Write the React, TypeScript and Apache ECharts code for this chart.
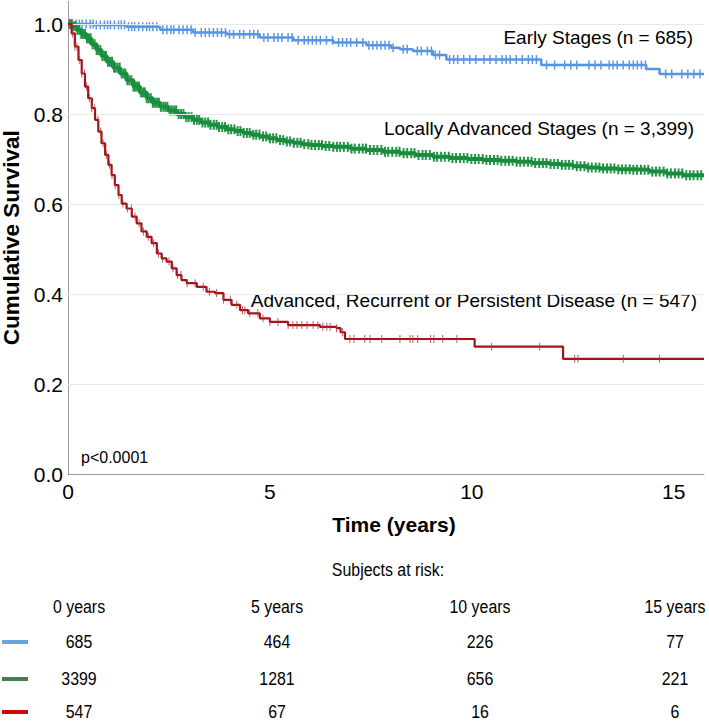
import React, { useEffect, useRef } from "react";
import * as echarts from "echarts";

// ---------- data ----------
const groupNames = [
  "Early Stages (n = 685)",
  "Locally Advanced Stages (n = 3,399)",
  "Advanced, Recurrent or Persistent Disease (n = 547)",
];

// Kaplan-Meier knots (time in years, cumulative survival)
const earlyTimes = [0, 0.63, 1.45, 2.28, 3.1, 3.93, 4.75, 5.58, 6.57, 7.39, 8.0, 8.22, 8.54, 9.04, 9.37, 11.72, 14.32, 14.65, 15.75];
const earlySurv = [1.0, 0.998, 0.994, 0.987, 0.981, 0.977, 0.97, 0.964, 0.959, 0.953, 0.947, 0.944, 0.94, 0.931, 0.921, 0.909, 0.9, 0.889, 0.889];

const localTimes = [0, 0.1, 0.21, 0.33, 0.46, 0.58, 0.71, 0.83, 0.96, 1.12, 1.29, 1.45, 1.62, 1.78, 1.95, 2.1, 2.28, 2.48, 2.69, 2.9, 3.1, 3.3, 3.51, 3.72, 3.93, 4.13, 4.34, 4.55, 4.75, 4.96, 5.17, 5.38, 5.58, 5.8, 5.99, 6.3, 6.57, 7.0, 7.39, 7.8, 8.22, 8.6, 9.04, 9.46, 9.9, 10.28, 10.7, 11.1, 11.5, 11.93, 12.2, 12.51, 12.85, 13.17, 13.6, 13.99, 14.4, 14.82, 15.23, 15.75];
const localSurv = [1.0, 0.995, 0.987, 0.978, 0.968, 0.955, 0.942, 0.929, 0.916, 0.903, 0.89, 0.875, 0.861, 0.848, 0.835, 0.825, 0.816, 0.808, 0.8, 0.793, 0.787, 0.781, 0.776, 0.771, 0.766, 0.762, 0.758, 0.754, 0.75, 0.746, 0.742, 0.739, 0.736, 0.733, 0.731, 0.729, 0.727, 0.723, 0.72, 0.716, 0.713, 0.709, 0.705, 0.702, 0.7, 0.698, 0.696, 0.694, 0.691, 0.689, 0.687, 0.684, 0.681, 0.679, 0.677, 0.676, 0.672, 0.668, 0.664, 0.664];

const advTimes = [0, 0.09, 0.17, 0.26, 0.34, 0.42, 0.5, 0.59, 0.67, 0.75, 0.83, 0.92, 1.0, 1.08, 1.16, 1.25, 1.33, 1.45, 1.58, 1.7, 1.82, 1.95, 2.07, 2.2, 2.32, 2.44, 2.57, 2.69, 2.81, 2.94, 3.19, 3.43, 3.64, 3.85, 4.05, 4.26, 4.46, 4.75, 5.0, 5.45, 6.24, 6.65, 6.75, 6.86, 10.07, 12.26, 15.75];
const advSurv = [1.0, 0.979, 0.95, 0.92, 0.89, 0.861, 0.835, 0.813, 0.787, 0.761, 0.735, 0.709, 0.687, 0.664, 0.642, 0.62, 0.601, 0.59, 0.572, 0.557, 0.539, 0.527, 0.513, 0.49, 0.479, 0.472, 0.457, 0.442, 0.431, 0.424, 0.416, 0.405, 0.402, 0.387, 0.376, 0.364, 0.357, 0.346, 0.338, 0.331, 0.327, 0.324, 0.315, 0.3, 0.283, 0.256, 0.256];

// censoring times
const earlyCensor = [0.1, 0.2, 0.28, 0.35, 0.45, 0.55, 0.62, 0.7, 0.8, 0.9, 0.98, 1.05, 1.15, 1.25, 1.32, 1.4, 1.5, 1.58, 1.65, 1.75, 1.85, 1.95, 2.02, 2.1, 2.2, 2.35, 2.45, 2.55, 2.62, 2.75, 2.85, 2.95, 3.05, 3.15, 3.3, 3.4, 3.5, 3.6, 3.7, 3.8, 3.9, 4.0, 4.1, 4.25, 4.35, 4.5, 4.6, 4.7, 4.85, 4.95, 5.1, 5.2, 5.3, 5.45, 5.55, 5.7, 5.85, 5.95, 6.05, 6.15, 6.25, 6.4, 6.55, 6.7, 6.8, 6.9, 7.0, 7.15, 7.3, 7.45, 7.55, 7.65, 7.75, 7.85, 7.95, 8.05, 8.3, 8.4, 8.65, 8.75, 8.9, 9.0, 9.1, 9.2, 9.45, 9.55, 9.65, 9.8, 9.95, 10.1, 10.3, 10.45, 10.6, 10.75, 10.85, 10.95, 11.1, 11.25, 11.4, 11.5, 11.6, 11.85, 12.05, 12.3, 12.45, 12.6, 12.9, 13.05, 13.2, 13.4, 13.5, 13.6, 13.75, 13.9, 14.0, 14.1, 14.2, 14.3, 14.8, 14.95, 15.2, 15.35, 15.5, 15.65];
const localCensor = [0.04, 0.09, 0.14, 0.19, 0.23, 0.28, 0.33, 0.37, 0.42, 0.47, 0.52, 0.56, 0.61, 0.66, 0.71, 0.75, 0.8, 0.85, 0.9, 0.94, 0.99, 1.04, 1.09, 1.14, 1.18, 1.23, 1.28, 1.33, 1.38, 1.42, 1.47, 1.52, 1.57, 1.62, 1.66, 1.71, 1.76, 1.81, 1.86, 1.9, 1.95, 2.0, 2.05, 2.1, 2.15, 2.2, 2.25, 2.3, 2.36, 2.41, 2.46, 2.52, 2.57, 2.63, 2.68, 2.74, 2.8, 2.86, 2.93, 2.99, 3.06, 3.12, 3.19, 3.25, 3.33, 3.4, 3.47, 3.53, 3.61, 3.68, 3.74, 3.82, 3.89, 3.97, 4.04, 4.12, 4.2, 4.27, 4.35, 4.43, 4.5, 4.59, 4.66, 4.74, 4.83, 4.91, 5.0, 5.08, 5.16, 5.25, 5.33, 5.42, 5.5, 5.59, 5.68, 5.76, 5.85, 5.95, 6.03, 6.12, 6.21, 6.29, 6.38, 6.47, 6.57, 6.66, 6.74, 6.83, 6.93, 7.02, 7.1, 7.21, 7.3, 7.38, 7.48, 7.57, 7.66, 7.76, 7.85, 7.93, 8.03, 8.13, 8.21, 8.31, 8.4, 8.5, 8.58, 8.68, 8.78, 8.86, 8.96, 9.06, 9.14, 9.24, 9.33, 9.43, 9.52, 9.61, 9.71, 9.8, 9.89, 9.99, 10.08, 10.17, 10.27, 10.36, 10.45, 10.55, 10.64, 10.73, 10.83, 10.92, 11.01, 11.11, 11.2, 11.29, 11.39, 11.48, 11.57, 11.67, 11.76, 11.85, 11.95, 12.04, 12.13, 12.23, 12.32, 12.41, 12.5, 12.6, 12.69, 12.79, 12.88, 12.97, 13.07, 13.16, 13.25, 13.35, 13.44, 13.53, 13.63, 13.72, 13.81, 13.91, 14.0, 14.09, 14.19, 14.28, 14.37, 14.47, 14.56, 14.65, 14.75, 14.84, 14.93, 15.03, 15.12, 15.21, 15.31, 15.4, 15.49, 15.59, 15.68];
const advCensor = [0.06, 0.11, 0.17, 0.22, 0.29, 0.34, 0.41, 0.46, 0.53, 0.59, 0.66, 0.74, 0.81, 0.87, 0.95, 1.03, 1.09, 1.17, 1.26, 1.36, 1.47, 1.57, 1.66, 1.76, 1.87, 1.99, 2.12, 2.24, 2.34, 2.5, 2.6, 2.71, 2.8, 2.95, 3.15, 3.35, 3.5, 3.68, 3.85, 4.02, 4.18, 4.32, 4.38, 4.5, 4.7, 4.83, 5.0, 5.2, 5.45, 5.57, 5.67, 5.79, 5.92, 6.07, 6.19, 6.31, 6.41, 6.49, 6.65, 6.8, 6.98, 7.08, 7.35, 7.48, 7.77, 8.22, 8.47, 8.54, 8.66, 8.98, 9.06, 9.28, 9.63, 10.49, 11.68, 12.55, 12.63, 13.75, 14.65];

// subjects at risk table
const riskHeaders = ["0 years", "5 years", "10 years", "15 years"];
const riskEarly = [685, 464, 226, 77];
const riskLocal = [3399, 1281, 656, 221];
const riskAdvanced = [547, 67, 16, 6];

// ---------- styling ----------
const FONT = "'Liberation Sans', Arial, Helvetica, sans-serif";
const lineColors = ["#5594e4", "#17893b", "#a3141a"];
const tickColors = ["#5a98e6", "#1a8f3f", "#b0343a"];
const dashColors = ["#6aa4da", "#4a7c4a", "#cc0a0a"];
const colX = [79, 277, 480, 675];

function survAt(times: number[], surv: number[], t: number) {
  let s = surv[0];
  for (let i = 0; i < times.length; i++) if (times[i] <= t) s = surv[i];
  return s;
}

export default function App() {
  const ref = useRef<HTMLDivElement>(null);
  useEffect(() => {
    if (!ref.current) return;
    const chart = echarts.init(ref.current, undefined, { renderer: "svg" });
    const groups = [
      { times: earlyTimes, surv: earlySurv, censor: earlyCensor, width: 2.5, tick: [1.5, 9], op: 1, risk: riskEarly },
      { times: localTimes, surv: localSurv, censor: localCensor, width: 4, tick: [2, 10], op: 0.95, risk: riskLocal },
      { times: advTimes, surv: advSurv, censor: advCensor, width: 2.2, tick: [1, 8], op: 0.8, risk: riskAdvanced },
    ];
    const series: any[] = [
      {
        type: "line",
        data: [[0, 0]],
        symbol: "none",
        lineStyle: { opacity: 0 },
        silent: true,
        z: 1,
        markLine: {
          silent: true,
          symbol: "none",
          label: { show: false },
          lineStyle: { color: "#e9e9e9", width: 1, type: "solid" },
          data: [0.2, 0.4, 0.6, 0.8, 1.0].map((v) => ({ yAxis: v })),
        },
      },
    ];
    groups.forEach((g, i) => {
      series.push({
        type: "line",
        name: groupNames[i],
        step: "end",
        symbol: "none",
        showSymbol: false,
        data: g.times.map((t, k) => [t, g.surv[k]]),
        lineStyle: { color: lineColors[i], width: g.width },
        z: 3 + i,
      });
      series.push({
        type: "scatter",
        symbol: "rect",
        symbolSize: g.tick,
        silent: true,
        data: g.censor.map((t) => [t, survAt(g.times, g.surv, t)]),
        itemStyle: { color: tickColors[i], opacity: g.op },
        z: 3 + i,
      });
    });

    const graphic: any[] = [];
    const txt = (text: string, x: number, y: number, size: number, align: string, sx = 1) => ({
      type: "text",
      x,
      y,
      scaleX: sx,
      silent: true,
      style: {
        text,
        fill: "#000",
        fontSize: size,
        fontFamily: FONT,
        align,
        verticalAlign: "middle",
        textAlign: align,
        textVerticalAlign: "middle",
      },
    });
    graphic.push(txt(groupNames[0], 693, 37, 19, "right"));
    graphic.push(txt(groupNames[1], 694, 128, 19, "right"));
    graphic.push(txt(groupNames[2], 697, 300, 19, "right"));
    graphic.push(txt("p<0.0001", 81, 457, 16, "left"));
    const TS = 18.5;
    const SX = 0.86;
    graphic.push(txt("Subjects at risk:", 388, 570, TS, "center", SX));
    const rowY = [642, 679, 712];
    riskHeaders.forEach((h, c) => graphic.push(txt(h, colX[c], 607, TS, "center", SX)));
    groups.forEach((g, r) => {
      graphic.push({
        type: "rect",
        shape: { x: 2, y: rowY[r] - 2, width: 26, height: 4 },
        style: { fill: dashColors[r] },
        silent: true,
      });
      g.risk.forEach((v, c) => graphic.push(txt(String(v), colX[c], rowY[r], TS, "center", SX)));
    });

    chart.setOption({
      animation: false,
      backgroundColor: "#fff",
      textStyle: { fontFamily: FONT },
      grid: { left: 68, right: 5, top: 1.5, bottom: 249, containLabel: false, outerBoundsMode: "none" },
      xAxis: {
        type: "value",
        min: 0,
        max: 15.75,
        interval: 5,
        name: "Time (years)",
        nameLocation: "middle",
        nameGap: 40,
        nameTextStyle: { fontWeight: "bold", fontSize: 21, color: "#000", fontFamily: FONT, padding: [0, 0, 0, 16] },
        axisLine: { show: true, lineStyle: { color: "#9a9a9a", width: 1 } },
        axisTick: { show: false },
        splitLine: { show: false },
        axisLabel: {
          fontSize: 21,
          color: "#000",
          margin: 7,
          fontFamily: FONT,
          formatter: (v: number) => (Math.abs(v / 5 - Math.round(v / 5)) < 1e-6 ? String(v) : ""),
        },
      },
      yAxis: {
        type: "value",
        min: 0,
        max: 1.05,
        interval: 0.2,
        name: "Cumulative Survival",
        nameLocation: "middle",
        nameGap: 40,
        nameTextStyle: { fontWeight: "bold", fontSize: 22.5, lineHeight: 23, color: "#000", fontFamily: FONT },
        axisLine: { show: true, lineStyle: { color: "#9a9a9a", width: 1 } },
        axisTick: { show: false },
        splitLine: { show: false },
        axisLabel: {
          fontSize: 21,
          color: "#000",
          margin: 5,
          fontFamily: FONT,
          formatter: (v: number) => (Math.abs(v / 0.2 - Math.round(v / 0.2)) < 1e-6 ? v.toFixed(1) : ""),
        },
      },
      series,
      graphic,
    });
    return () => chart.dispose();
  }, []);
  return <div ref={ref} style={{ position: "absolute", left: 0, top: 0, width: 709, height: 723, background: "#fff" }} />;
}
